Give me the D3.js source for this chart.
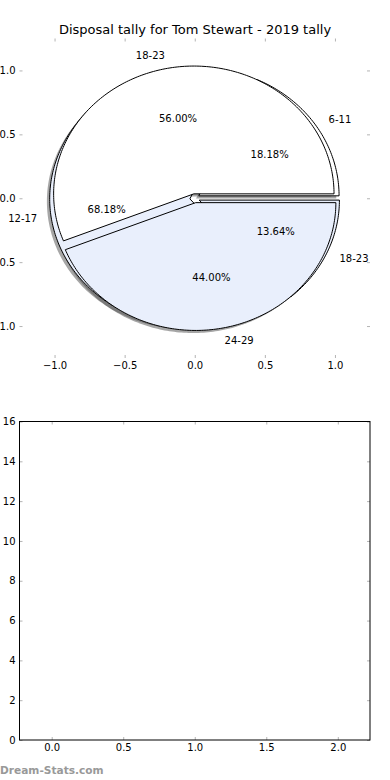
<!DOCTYPE html>
<html>
<head>
<meta charset="utf-8">
<script src="https://cdn.jsdelivr.net/npm/d3@7"></script>
<style>
  body { margin: 0; background: #fff; }
  svg { display: block; font-family: "DejaVu Sans", sans-serif; }
</style>
</head>
<body>
<svg id="chart" width="390" height="780"></svg>
<script>
// tally data (games per disposal band)
var ageBands2019 = ['18-23', '24-29'];
var gameCounts2019 = [14, 11];
var disposalBands = ['6-11', '12-17', '18-23'];
var disposalCounts = [4, 15, 3];

var pieTicks = [-1.0, -0.5, 0.0, 0.5, 1.0];
var barXTicks = [0.0, 0.5, 1.0, 1.5, 2.0];
var barYTicks = [0, 2, 4, 6, 8, 10, 12, 14, 16];

var titleText = 'Disposal tally for Tom Stewart - 2019 tally';

/*************************************************************************/

var svg = d3.select('#chart');
var tickColor = '#b4b4b4';
var blue = '#e9effc';
var explode = 0.035;

var xPie = d3.scaleLinear().domain([-1.25, 1.25]).range([19.5, 370]);
var yPie = d3.scaleLinear().domain([-1.25, 1.25]).range([358, 38.5]);
var lineGen = d3.line().x(d => xPie(d[0])).y(d => yPie(d[1]));

function wedgePath(cx, cy, t1, t2){
  var pts = [[cx, cy]];
  var n = Math.max(2, Math.ceil((t2 - t1) / (Math.PI / 180)));
  for(var i = 0; i <= n; i++){
    var t = t1 + (t2 - t1) * i / n;
    pts.push([cx + Math.cos(t), cy + Math.sin(t)]);
  }
  return lineGen(pts) + 'Z';
}

// angles counter-clockwise from east, like matplotlib
function layoutPie(labels, counts, colors){
  var total = d3.sum(counts);
  var arcs = d3.pie().sort(null).startAngle(0).endAngle(2 * Math.PI)(counts);
  return arcs.map((a, i) => {
    var mid = (a.startAngle + a.endAngle) / 2;
    return {
      label: labels[i],
      pct: (100 * counts[i] / total).toFixed(2) + '%',
      t1: a.startAngle, t2: a.endAngle, mid: mid,
      cx: explode * Math.cos(mid), cy: explode * Math.sin(mid),
      color: colors[i]
    };
  });
}

var pieBack = layoutPie(disposalBands, disposalCounts, ['#ffffff', blue, blue]);
var pieFront = layoutPie(ageBands2019, gameCounts2019, ['#ffffff', blue]);

/*************************************************************************/

// pie axes ticks (frame off)
var gTop = svg.append('g');
gTop.append('g').attr('transform', 'translate(0,358)')
  .call(d3.axisBottom(xPie).tickValues(pieTicks).tickFormat(d3.format('.1f')).tickSizeInner(-3).tickSizeOuter(0).tickPadding(4));
gTop.append('g').attr('transform', 'translate(0,38.5)')
  .call(d3.axisTop(xPie).tickValues(pieTicks).tickFormat('').tickSizeInner(-3).tickSizeOuter(0));
gTop.append('g').attr('transform', 'translate(19.5,0)')
  .call(d3.axisLeft(yPie).tickValues(pieTicks).tickFormat(d3.format('.1f')).tickSizeInner(-3).tickSizeOuter(0).tickPadding(4));
gTop.append('g').attr('transform', 'translate(370,0)')
  .call(d3.axisRight(yPie).tickValues(pieTicks).tickFormat('').tickSizeInner(-3).tickSizeOuter(0));
gTop.selectAll('.domain').remove();

// shadows first, then back pie, then front pie
var gPie = svg.append('g');
pieBack.concat(pieFront).forEach(w => {
  gPie.append('path')
    .attr('d', wedgePath(w.cx - 0.02, w.cy - 0.02, w.t1, w.t2))
    .attr('fill', '#4d4d4d').attr('fill-opacity', 0.5);
});
[pieBack, pieFront].forEach(pie => {
  pie.forEach(w => {
    gPie.append('path')
      .attr('d', wedgePath(w.cx, w.cy, w.t1, w.t2))
      .attr('fill', w.color).attr('stroke', '#000').attr('stroke-width', 1)
      .attr('stroke-linejoin', 'miter');
  });
});

[pieBack, pieFront].forEach(pie => {
  pie.forEach(w => {
    var lx = w.cx + 1.1 * Math.cos(w.mid), ly = w.cy + 1.1 * Math.sin(w.mid);
    gPie.append('text')
      .attr('x', xPie(lx)).attr('y', yPie(ly)).attr('dy', '0.35em')
      .attr('text-anchor', lx > 0 ? 'start' : 'end')
      .attr('font-size', 10).text(w.label);
    var px = w.cx + 0.6 * Math.cos(w.mid), py = w.cy + 0.6 * Math.sin(w.mid);
    gPie.append('text')
      .attr('x', xPie(px)).attr('y', yPie(py)).attr('dy', '0.35em')
      .attr('text-anchor', 'middle')
      .attr('font-size', 10).text(w.pct);
  });
});

svg.append('text')
  .attr('x', 195).attr('y', 34).attr('text-anchor', 'middle')
  .attr('font-size', 13).text(titleText);

/*************************************************************************/

// empty tally axes
var xBar = d3.scaleLinear().domain([-0.225, 2.225]).range([19.5, 370]);
var yBar = d3.scaleLinear().domain([0, 16]).range([740, 421.5]);

var gBot = svg.append('g');
gBot.append('g').attr('transform', 'translate(0,740)')
  .call(d3.axisBottom(xBar).tickValues(barXTicks).tickFormat(d3.format('.1f')).tickSizeInner(-3).tickSizeOuter(0).tickPadding(4));
gBot.append('g').attr('transform', 'translate(0,421.5)')
  .call(d3.axisTop(xBar).tickValues(barXTicks).tickFormat('').tickSizeInner(-3).tickSizeOuter(0));
gBot.append('g').attr('transform', 'translate(19.5,0)')
  .call(d3.axisLeft(yBar).tickValues(barYTicks).tickFormat(d3.format('d')).tickSizeInner(-3).tickSizeOuter(0).tickPadding(4));
gBot.append('g').attr('transform', 'translate(370,0)')
  .call(d3.axisRight(yBar).tickValues(barYTicks).tickFormat('').tickSizeInner(-3).tickSizeOuter(0));
gBot.selectAll('.domain').remove();
gBot.append('rect')
  .attr('x', 19.5).attr('y', 421.5).attr('width', 350.5).attr('height', 318.5)
  .attr('fill', 'none').attr('stroke', '#000').attr('stroke-width', 1);

svg.selectAll('.tick line').attr('stroke', tickColor);
svg.selectAll('.tick text').attr('font-size', 10).attr('fill', '#000').attr('font-family', '"DejaVu Sans", sans-serif');

svg.append('text')
  .attr('x', 0).attr('y', 774).attr('font-size', 10.6).attr('font-weight', 'bold').attr('fill', '#999')
  .text('Dream-Stats.com');
</script>
</body>
</html>
